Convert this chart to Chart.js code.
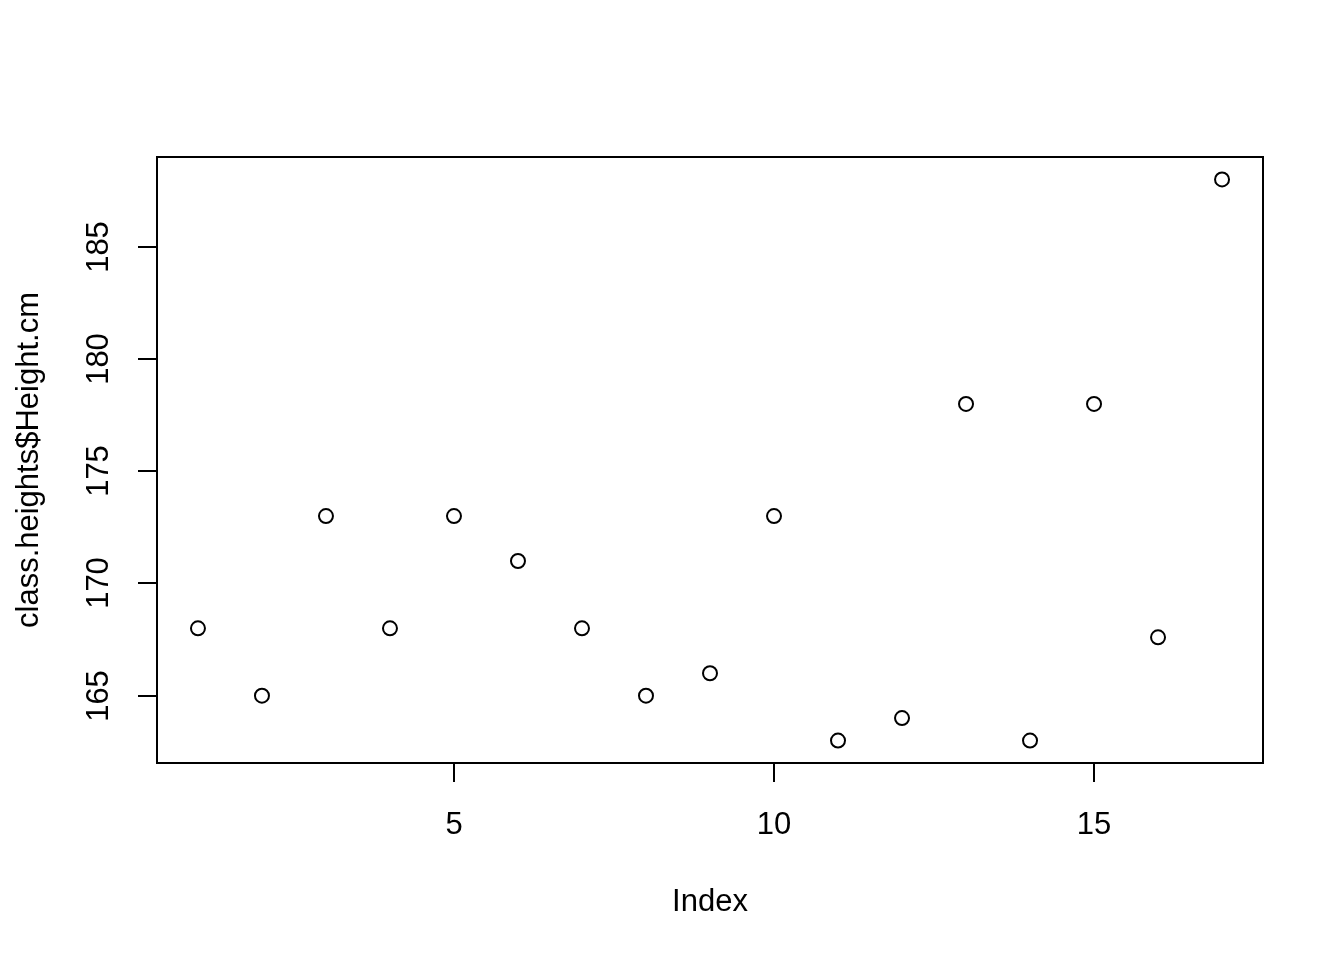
<!DOCTYPE html>
<html>
<head>
<meta charset="utf-8">
<script src="https://cdn.jsdelivr.net/npm/chart.js@4.4.0/dist/chart.umd.min.js"></script>
<style>
html, body { margin: 0; padding: 0; background: #fff; }
canvas { display: block; }
</style>
</head>
<body>
<canvas id="heightsChart" width="1344" height="960"></canvas>
<script>
const index = [1, 2, 3, 4, 5, 6, 7, 8, 9, 10, 11, 12, 13, 14, 15, 16, 17];
const heights = [168, 165, 173, 168, 173, 171, 168, 165, 166, 173, 163, 164, 178, 163, 178, 167.6, 188];
const xTicks = [5, 10, 15];
const yTicks = [165, 170, 175, 180, 185];
const xLabel = 'Index';
const yLabel = 'class.heights$Height.cm';

const FONT = '31px "Liberation Sans", Arial, sans-serif';

// R style axis range: data range stretched by 4% each side
const pad = (arr) => {
    const lo = Math.min(...arr), hi = Math.max(...arr);
    const d = (hi - lo) * 0.04;
    return [lo - d, hi + d];
};
const [xMin, xMax] = pad(index);
const [yMin, yMax] = pad(heights);

const baseAxes = {
    id: 'baseAxes',
    afterDraw(chart) {
        const {ctx, chartArea: a, scales: {x, y}} = chart;
        ctx.save();
        ctx.strokeStyle = '#000';
        ctx.fillStyle = '#000';
        ctx.lineWidth = 2;
        ctx.strokeRect(a.left, a.top, a.right - a.left, a.bottom - a.top);

        ctx.font = FONT;
        ctx.textBaseline = 'alphabetic';
        ctx.textAlign = 'center';

        xTicks.forEach(v => {
            const px = Math.round(x.getPixelForValue(v));
            ctx.beginPath();
            ctx.moveTo(px, a.bottom);
            ctx.lineTo(px, a.bottom + 19);
            ctx.stroke();
            ctx.fillText(String(v), px, 834);
        });

        yTicks.forEach(v => {
            const py = Math.round(y.getPixelForValue(v));
            ctx.beginPath();
            ctx.moveTo(a.left, py);
            ctx.lineTo(a.left - 19, py);
            ctx.stroke();
            ctx.save();
            ctx.translate(108, py);
            ctx.rotate(-Math.PI / 2);
            ctx.fillText(String(v), 0, 0);
            ctx.restore();
        });

        ctx.fillText(xLabel, (a.left + a.right) / 2, 911);
        ctx.save();
        ctx.translate(38, (a.top + a.bottom) / 2);
        ctx.rotate(-Math.PI / 2);
        ctx.fillText(yLabel, 0, 0);
        ctx.restore();
        ctx.restore();
    }
};

new Chart(document.getElementById('heightsChart'), {
    type: 'scatter',
    data: {
        datasets: [{
            data: index.map((i, k) => ({x: i, y: heights[k]})),
            pointStyle: 'circle',
            pointRadius: 7,
            pointHoverRadius: 7,
            borderWidth: 2,
            borderColor: '#000',
            backgroundColor: 'rgba(0,0,0,0)',
            clip: false
        }]
    },
    options: {
        responsive: false,
        animation: false,
        devicePixelRatio: 1,
        events: [],
        layout: {padding: {left: 157, right: 81, top: 157, bottom: 197}},
        plugins: {legend: {display: false}, tooltip: {enabled: false}},
        scales: {
            x: {type: 'linear', min: xMin, max: xMax, display: false},
            y: {type: 'linear', min: yMin, max: yMax, display: false}
        }
    },
    plugins: [baseAxes]
});
</script>
</body>
</html>
